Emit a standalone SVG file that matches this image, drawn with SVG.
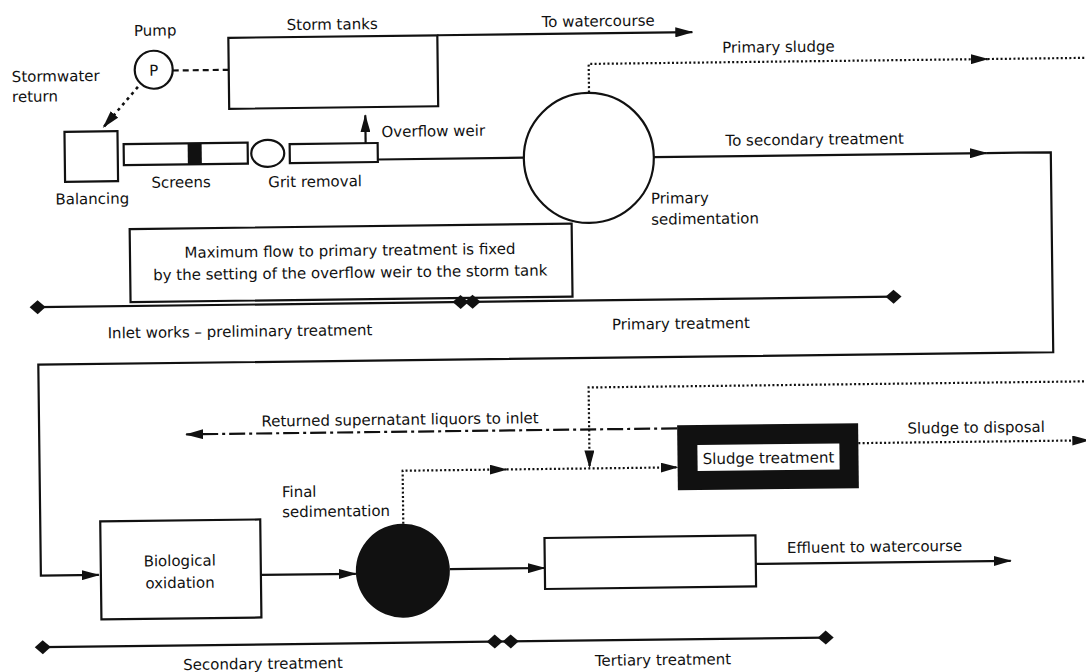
<svg xmlns="http://www.w3.org/2000/svg" width="1086" height="672" viewBox="0 0 1086 672">
<defs>
<marker id="ah" viewBox="0 0 18 10" refX="17" refY="5" markerWidth="18" markerHeight="10" markerUnits="userSpaceOnUse" orient="auto"><path d="M0,0 L18,5 L0,10 z" fill="#111"/></marker>
</defs>
<style>
text{font-family:"DejaVu Sans","Liberation Sans",sans-serif;font-size:15px;fill:#111}
.c{text-anchor:middle}
.ln{fill:none;stroke:#111;stroke-width:2.2}
.box{fill:#fff;stroke:#111;stroke-width:2.2}
.dot{fill:none;stroke:#111;stroke-width:2.2;stroke-dasharray:2 2.3}
.dash{fill:none;stroke:#111;stroke-width:2.2;stroke-dasharray:6 4}
.dd{fill:none;stroke:#111;stroke-width:2.2;stroke-dasharray:16 4 3 4}
.dia{fill:#111}
</style>
<rect width="1086" height="672" fill="#fff"/>
<g transform="rotate(-0.7 543 336)">
<g id="connectors">
<path class="dash" d="M176,66 L232,66"/>
<path class="dot" style="stroke-width:2.6;stroke-dasharray:3 4" d="M141,82 L106,122" marker-end="url(#ah)"/>
<path class="ln" d="M441,34 L696,34" marker-end="url(#ah)"/>
<path class="ln" d="M368,141 L368,113" marker-end="url(#ah)"/>
<path class="ln" d="M380,157.5 L526,157.5"/>
<path class="dot" d="M592,93 L592,64.5 L991,64.5" marker-end="url(#ah)"/>
<path class="dot" d="M991,64.5 L1092,64.5"/>
<path class="ln" d="M656,158.5 L989,158.5" marker-end="url(#ah)"/>
<path class="ln" d="M989,158.5 L1053,158.5 L1053,358.5 L38,358.5 L38,569.5 L96,569.5" marker-end="url(#ah)"/>
<path class="ln" d="M258,571.5 L353,571.5" marker-end="url(#ah)"/>
<path class="ln" d="M447,568 L542,568" marker-end="url(#ah)"/>
<path class="ln" d="M753,566.5 L1008,566.5" marker-end="url(#ah)"/>
<path class="dot" d="M401,522 L401,469 L505,469" marker-end="url(#ah)"/>
<path class="dot" d="M505,469 L676,469" marker-end="url(#ah)"/>
<path class="dot" d="M1092,388 L588,388 L588,468" marker-end="url(#ah)"/>
<path class="dd" d="M676,430 L185,430" marker-end="url(#ah)"/>
<path class="dot" d="M857,447 L1088,447" marker-end="url(#ah)"/>
</g>
<g id="pump">
<circle class="box" cx="157" cy="65" r="19"/>
<text class="c" x="157" y="71">P</text>
<text class="c" x="159" y="31">Pump</text>
<text x="15" y="75.5">Stormwater</text>
<text x="15" y="95.5">return</text>
</g>
<g id="storm-tanks">
<rect class="box" x="232" y="34" width="209" height="71"/>
<text class="c" x="336" y="27">Storm tanks</text>
<text class="c" x="602" y="27">To watercourse</text>
</g>
<g id="balancing">
<rect class="box" x="67" y="126" width="53" height="50"/>
<text class="c" x="94" y="198.5">Balancing</text>
</g>
<g id="screens">
<rect class="box" x="126" y="139" width="124" height="21"/>
<rect x="190" y="139" width="14" height="21" fill="#111"/>
<text class="c" x="183" y="183">Screens</text>
</g>
<g id="grit-removal">
<ellipse class="box" cx="270" cy="150" rx="16.5" ry="13.5"/>
<text class="c" x="317" y="184">Grit removal</text>
</g>
<g id="overflow-weir">
<rect class="box" x="292" y="141" width="88" height="19"/>
<text x="384" y="135">Overflow weir</text>
</g>
<g id="primary-sedimentation">
<circle class="box" cx="591" cy="158.5" r="65"/>
<text x="652.5" y="205">Primary</text>
<text x="652.5" y="226">sedimentation</text>
<text class="c" x="782" y="55">Primary sludge</text>
<text class="c" x="817" y="148">To secondary treatment</text>
</g>
<g id="note">
<rect class="box" x="131" y="224" width="442" height="73"/>
<text class="c" x="351" y="253.5">Maximum flow to primary treatment is fixed</text>
<text class="c" x="351" y="275.5">by the setting of the overflow weir to the storm tank</text>
</g>
<g id="stages-top">
<path class="ln" d="M38,301 L894,301"/>
<polygon class="dia" points="30,301 38,294 46,301 38,308"/>
<polygon class="dia" points="453,301 461,294 469,301 461,308"/>
<polygon class="dia" points="465,301 473,294 481,301 473,308"/>
<polygon class="dia" points="886,301 894,294 902,301 894,308"/>
<text class="c" x="240" y="333">Inlet works – preliminary treatment</text>
<text class="c" x="681" y="330.5">Primary treatment</text>
</g>
<g id="sludge-treatment">
<rect x="676" y="427" width="181" height="65" fill="#111"/>
<rect x="696" y="447" width="142" height="26" fill="#fff"/>
<text class="c" x="767" y="466">Sludge treatment</text>
<text class="c" x="975" y="438">Sludge to disposal</text>
<text class="c" x="399" y="423">Returned supernatant liquors to inlet</text>
</g>
<g id="biological-oxidation">
<rect class="box" x="98" y="516" width="160" height="98"/>
<text class="c" x="177" y="561.5">Biological</text>
<text class="c" x="177" y="583.5">oxidation</text>
</g>
<g id="final-sedimentation">
<circle cx="400" cy="569" r="47" fill="#111"/>
<text x="280" y="494">Final</text>
<text x="280" y="514">sedimentation</text>
</g>
<g id="tertiary">
<rect class="box" x="542" y="538" width="211" height="51"/>
<text class="c" x="872" y="556">Effluent to watercourse</text>
</g>
<g id="stages-bottom">
<path class="ln" d="M39,641 L822,641"/>
<polygon class="dia" points="31,641 39,634 47,641 39,648"/>
<polygon class="dia" points="483,641 491,634 499,641 491,648"/>
<polygon class="dia" points="499,641 507,634 515,641 507,648"/>
<polygon class="dia" points="814,641 822,634 830,641 822,648"/>
<text class="c" x="259" y="665.5">Secondary treatment</text>
<text class="c" x="659" y="666.5">Tertiary treatment</text>
</g>
</g>
</svg>
